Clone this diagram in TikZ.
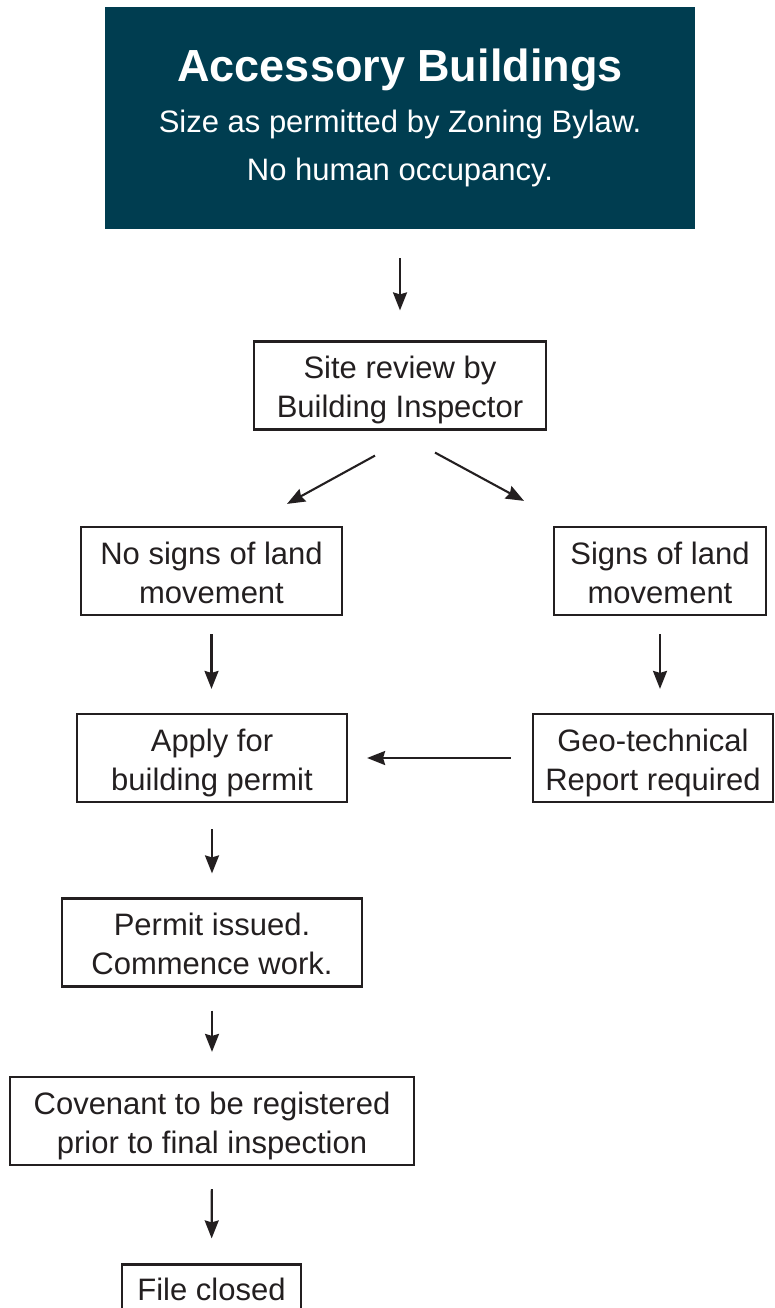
\documentclass[tikz,border=0pt]{standalone}
\usepackage{fontspec}
\setmainfont{Liberation Sans}
\usetikzlibrary{arrows.meta,positioning}
\definecolor{headteal}{RGB}{0,61,80}
\definecolor{inkgray}{RGB}{35,31,32}

\begin{document}
\begin{tikzpicture}[x=1pt,y=-1pt,>={Stealth[length=18pt,width=14pt,inset=2pt]},
		line width=2.1pt,color=inkgray]
		\tikzstyle{box}=[draw,rectangle,line width=2.2pt,inner sep=0pt,align=center,
		font=\fontsize{31}{39}\selectfont,minimum height=88pt,
		text height=64pt,text depth=0pt]
		
		\useasboundingbox (0,0) rectangle (775,1308);
		
		\node[fill=headteal,text=white,minimum width=590pt,minimum height=222pt,
		align=center,font=\fontsize{31}{48}\selectfont] (head) at (400,118)
		{{\fontsize{45}{52}\selectfont\bfseries Accessory Buildings}\\[3pt]
			Size as permitted by Zoning Bylaw.\\ No human occupancy.};
		\node[box,minimum width=292pt] (site)     at (400,385.5)  {Site review by\\ Building Inspector};
		\node[box,minimum width=261pt] (nosigns)  at (211.5,571)  {No signs of land\\ movement};
		\node[box,minimum width=212pt] (signs)    at (660,571)    {Signs of land\\ movement};
		\node[box,minimum width=270pt] (apply)    at (212,758)    {Apply for\\ building permit};
		\node[box,minimum width=240pt] (geo)      at (653,758)    {Geo-technical\\ Report required};
		\node[box,minimum width=300pt] (permit)   at (212,942.5)  {Permit issued.\\ Commence work.};
		\node[box,minimum width=404pt] (covenant) at (212,1121)   {Covenant to be registered\\ prior to final inspection};
		\node[box,minimum width=179pt,minimum height=55pt,text height=16pt] (closed) at (211.5,1292) {File closed};
		
		\path[->]
		(head) edge [shorten <=28pt,shorten >=30pt] (site);
		\draw[->] ([xshift=-25pt,yshift=-25pt]site.south) -- ([xshift=75.5pt,yshift=22pt]nosigns.north);
		\draw[->] ([xshift=35pt,yshift=-22pt]site.south) -- ([xshift=-136pt,yshift=25pt]signs.north);
		\path[->]
		(nosigns) edge [shorten <=18pt,shorten >=24pt] (nosigns |- apply.north);
		\draw[->,shorten <=18pt,shorten >=24pt] (signs) -- (signs |- geo.north);
		\draw[->,shorten <=21pt,shorten >=19pt] (geo.west) -- (apply.east);
		\path[->]
		(apply) edge [shorten <=26pt,shorten >=24pt] (permit)
		(permit) edge [shorten <=23pt,shorten >=24pt] (covenant)
		(covenant) edge [shorten <=23pt,shorten >=25pt] (closed);
\end{tikzpicture}
\end{document}
